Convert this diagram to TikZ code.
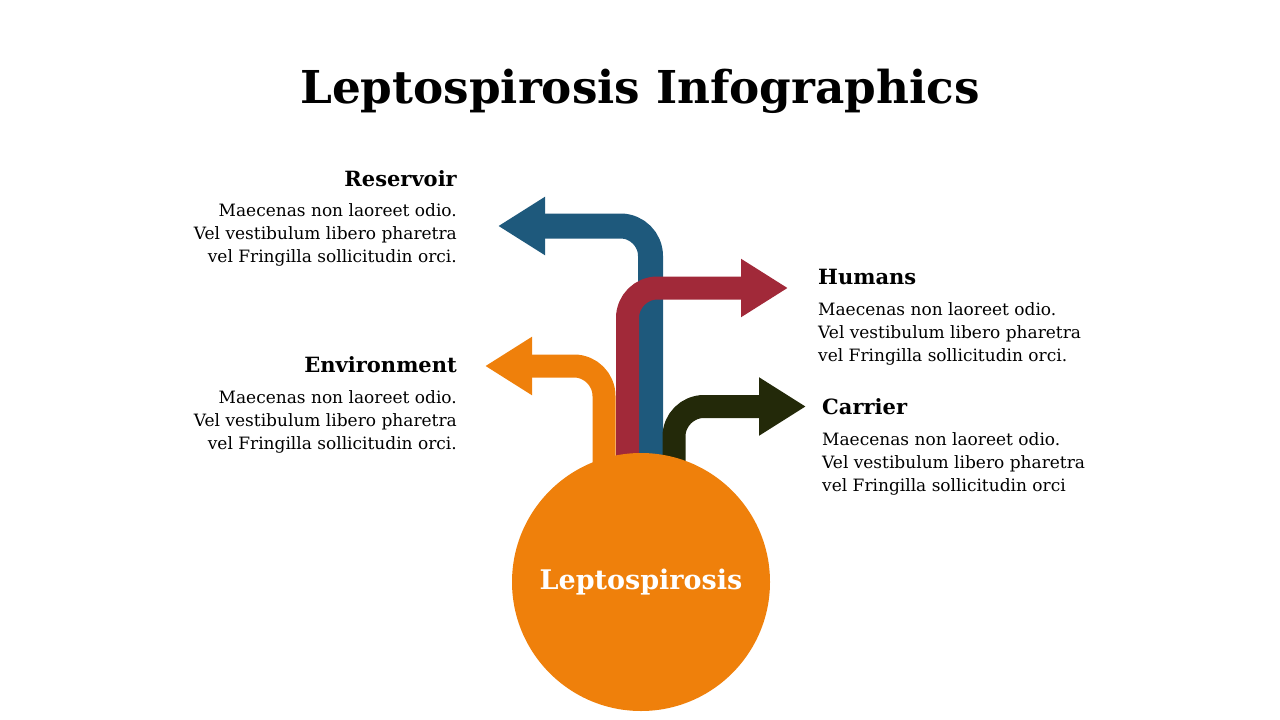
\documentclass[tikz,border=0pt]{standalone}
\usepackage{fontspec}
\setmainfont{DejaVu Serif}
\usetikzlibrary{arrows.meta,positioning}
\definecolor{leptoblue}{RGB}{30,89,124}
\definecolor{leptored}{RGB}{161,41,57}
\definecolor{leptoorange}{RGB}{239,128,11}
\definecolor{leptodark}{RGB}{35,41,9}

\begin{document}
\begin{tikzpicture}[x=1pt, y=-1pt,
  branch/.style={line width=23pt, rounded corners=30pt,
    -{Triangle[length=47pt, width=55pt]}},
  heading/.style={font=\bfseries\fontsize{21}{25}\selectfont, inner sep=0pt},
  blurb/.style={font=\fontsize{17}{23}\selectfont, inner sep=0pt}]
  \useasboundingbox (0,0) rectangle (1280,720);
  % Titre
  \node[font=\bfseries\fontsize{45.3}{52}\selectfont, anchor=base] (title) at (640,103)
    {Leptospirosis Infographics};
  % Pieds et pointes des branches
  \coordinate (bluefoot) at (650.5,475);   \coordinate (bluetip) at (498,226);
  \coordinate (redfoot) at (627.5,475);    \coordinate (redtip) at (788,288);
  \coordinate (orangefoot) at (604,475);   \coordinate (orangetip) at (485,366);
  \coordinate (darkfoot) at (674,475);     \coordinate (darktip) at (806,406.5);
  % Branches
  \draw[branch, leptoblue, line width=25pt] (bluefoot) |- (bluetip);
  \draw[branch, leptored] (redfoot) |- (redtip);
  \draw[branch, leptoorange] (orangefoot) |- (orangetip);
  \draw[branch, leptodark] (darkfoot) |- (darktip);
  % Cercle central
  \node[circle, fill=leptoorange, minimum size=258pt, inner sep=0pt, text=white,
    font=\bfseries\fontsize{27}{31}\selectfont] (hub) at (641,582) {Leptospirosis};
  % Textes a gauche
  \node[heading, anchor=base east] (reservoir) at (457,186) {Reservoir};
  \node[blurb, align=right, below left=17pt and 0pt of reservoir.south east]
    (reservoirtxt) {Maecenas non laoreet odio.\\Vel vestibulum libero pharetra\\vel Fringilla sollicitudin orci.};
  \node[heading, anchor=base east] (environment) at (457,372) {Environment};
  \node[blurb, align=right, below left=17.5pt and 0pt of environment.south east]
    (environmenttxt) {Maecenas non laoreet odio.\\Vel vestibulum libero pharetra\\vel Fringilla sollicitudin orci.};
  % Textes a droite
  \node[heading, anchor=base west] (humans) at (818,284) {Humans};
  \node[blurb, align=left, below right=18pt and 0pt of humans.south west]
    (humanstxt) {Maecenas non laoreet odio.\\Vel vestibulum libero pharetra\\vel Fringilla sollicitudin orci.};
  \node[heading, anchor=base west] (carrier) at (822,414) {Carrier};
  \node[blurb, align=left, below right=18pt and 0pt of carrier.south west]
    (carriertxt) {Maecenas non laoreet odio.\\Vel vestibulum libero pharetra\\vel Fringilla sollicitudin orci};
\end{tikzpicture}
\end{document}
